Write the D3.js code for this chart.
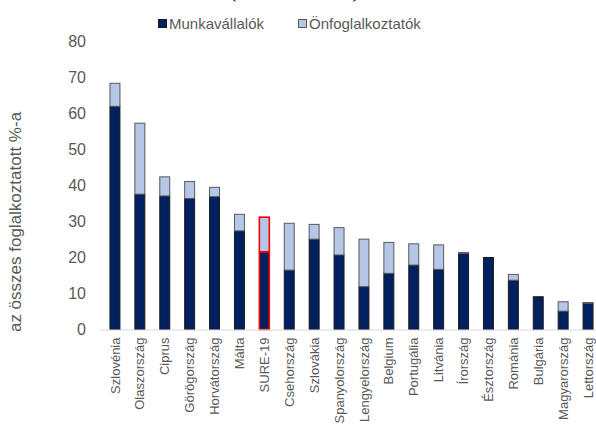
<!DOCTYPE html>
<html>
<head>
<meta charset="utf-8">
<script src="https://cdn.jsdelivr.net/npm/d3@7"></script>
<style>
  body { margin: 0; background: #fff; }
  svg { display: block; font-family: "Liberation Sans", Arial, sans-serif; }
</style>
</head>
<body>
<div id="chart"></div>
<script>
// data
var countries = ["Szlovénia", "Olaszország", "Ciprus", "Görögország", "Horvátország", "Málta", "SURE-19",
    "Csehország", "Szlovákia", "Spanyolország", "Lengyelország", "Belgium", "Portugália", "Litvánia",
    "Írország", "Észtország", "Románia", "Bulgária", "Magyarország", "Lettország"];
var employees = [62.0, 37.6, 37.1, 36.4, 36.9, 27.4, 21.6, 16.5, 25.1, 20.7, 11.9, 15.6, 17.9, 16.7, 21.1, 20.0, 13.7, 9.1, 5.1, 7.3];
var selfEmployed = [6.4, 19.7, 5.3, 4.7, 2.6, 4.6, 9.6, 13.0, 4.1, 7.6, 13.2, 8.6, 5.9, 6.8, 0.3, 0, 1.6, 0, 2.6, 0.2];
var seriesNames = ["Munkavállalók", "Önfoglalkoztatók"];
var yTicks = [0, 10, 20, 30, 40, 50, 60, 70, 80];
var highlight = "SURE-19";

var colors = ["#002060", "#b4c7e7"];
var strokes = ["#1a1a1a", "#595959"];
var textColor = "#595959";

var svg = d3.select("#chart").append("svg")
    .attr("width", 596)
    .attr("height", 431);

// title, mostly cut off by the top of the picture
svg.append("text")
    .attr("x", 296)
    .attr("y", -3)
    .attr("text-anchor", "middle")
    .attr("font-family", "'Liberation Serif', serif")
    .attr("font-style", "italic")
    .attr("font-size", 24)
    .attr("fill", "#262626")
    .text("(százalékban)");

var x = d3.scaleBand()
    .domain(countries)
    .range([102.5, 600.5])
    .paddingInner(0.6)
    .paddingOuter(0.3);

var y = d3.scaleLinear()
    .domain([0, 80])
    .range([329.5, 41.5]);

var rows = countries.map(function(c, i) {
    return {country: c, v0: employees[i], v1: selfEmployed[i]};
});

var stacked = d3.stack().keys(["v0", "v1"])(rows);

// bars
svg.append("g")
    .selectAll("g")
    .data(stacked)
    .enter().append("g")
    .attr("fill", function(d, i) { return colors[i]; })
    .each(function(layer, li) {
        d3.select(this).selectAll("rect")
            .data(layer.filter(function(d) { return d[1] - d[0] > 0; }))
            .enter().append("rect")
            .attr("x", function(d) { return x(d.data.country); })
            .attr("y", function(d) { return y(d[1]); })
            .attr("width", x.bandwidth())
            .attr("height", function(d) { return y(d[0]) - y(d[1]); })
            .attr("stroke", function(d) { return d.data.country === highlight ? "#ff0000" : strokes[li]; })
            .attr("stroke-width", function(d) { return d.data.country === highlight ? 1.6 : 1; });
    });

// baseline
svg.append("line")
    .attr("x1", 100)
    .attr("x2", 596)
    .attr("y1", y(0) + 0.5)
    .attr("y2", y(0) + 0.5)
    .attr("stroke", "#d9d9d9")
    .attr("stroke-width", 1.2);

// y axis
var yAxis = svg.append("g")
    .attr("transform", "translate(86,0)")
    .call(d3.axisLeft(y).tickValues(yTicks).tickSize(0).tickPadding(0));
yAxis.select(".domain").remove();
yAxis.selectAll("text")
    .attr("fill", textColor)
    .attr("font-size", 16)
    .attr("font-family", "'Liberation Sans', Arial, sans-serif");

svg.append("text")
    .attr("transform", "translate(21,222) rotate(-90)")
    .attr("text-anchor", "middle")
    .attr("fill", textColor)
    .attr("font-size", 17)
    .text("az összes foglalkoztatott %-a");

// x labels
var xAxis = svg.append("g")
    .attr("transform", "translate(0," + (y(0) + 8) + ")")
    .call(d3.axisBottom(x).tickSize(0).tickPadding(0));
xAxis.select(".domain").remove();
xAxis.selectAll("text")
    .attr("transform", "rotate(-90)")
    .attr("x", 0)
    .attr("y", 0)
    .attr("dx", 0)
    .attr("dy", "0.35em")
    .attr("text-anchor", "end")
    .attr("fill", textColor)
    .attr("font-size", 13)
    .attr("font-family", "'Liberation Sans', Arial, sans-serif");

// legend
var legend = svg.append("g")
    .selectAll("g")
    .data(seriesNames)
    .enter().append("g")
    .attr("transform", function(d, i) { return "translate(" + (158 + i * 140) + ",19)"; });

legend.append("rect")
    .attr("x", 0.5)
    .attr("y", 0.5)
    .attr("width", 8)
    .attr("height", 8)
    .attr("fill", function(d, i) { return colors[i]; })
    .attr("stroke", function(d, i) { return strokes[i]; });

legend.append("text")
    .attr("x", 11)
    .attr("y", 10)
    .attr("fill", textColor)
    .attr("font-size", 15)
    .text(function(d) { return d; });
</script>
</body>
</html>
